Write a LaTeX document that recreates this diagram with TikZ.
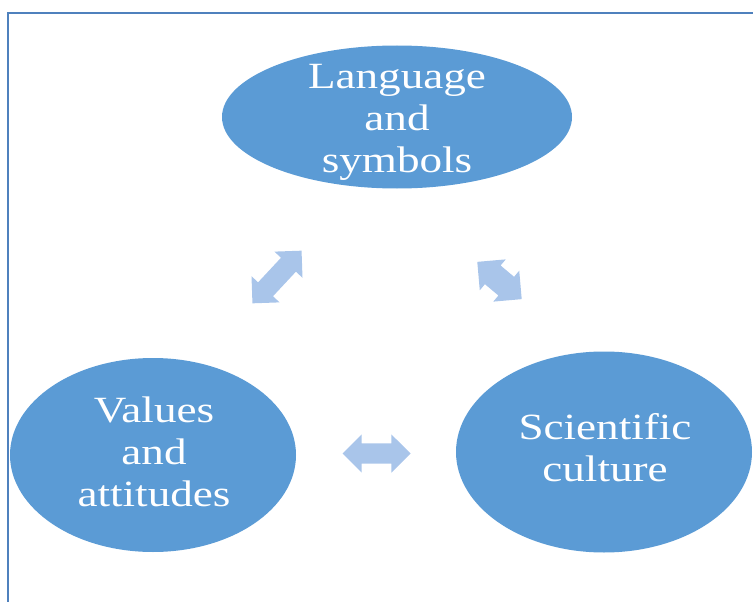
\documentclass[tikz,border=0pt]{standalone}
\usepackage{fontspec}
\setmainfont{Liberation Serif}[FakeStretch=1.22]
\usetikzlibrary{calc,shapes.geometric,shapes.arrows}
\definecolor{frame}{HTML}{4F81BD}
\definecolor{bubble}{HTML}{5B9BD5}
\definecolor{arrowfill}{HTML}{A9C5EA}

\tikzset{
  bubble/.style={ellipse, fill=bubble, inner sep=0pt},
  word/.style={text=white, align=center, inner sep=0pt,
    font=\fontsize{37}{42}\selectfont},
  link/.style={double arrow, fill=arrowfill, inner xsep=0pt, inner ysep=10pt,
    text height=0pt, text depth=0pt, double arrow head extend=9pt}
}

\begin{document}
\begin{tikzpicture}[x=1pt, y=-1pt]

  \useasboundingbox (0, 0) rectangle (753, 602);
  \draw[frame, line width=2.5pt] (8, 602) -- (8, 13) -- (753, 13);

  \node[bubble, minimum width=350pt, minimum height=143pt] (lang) at (397, 117) {};
  \node[bubble, minimum width=286pt, minimum height=194pt] (vals) at (153, 455) {};
  \node[bubble, minimum width=296pt, minimum height=201pt] (sci) at (604, 452) {};

  \node[word] (langtext) at (397, 122) {Language\\and\\symbols};
  \node[word] (valstext) at (154, 452) {Values\\and\\attitudes};
  \node[word] (scitext) at (605, 448) {Scientific\\culture};

  \node[link, minimum height=72pt, rotate=47] (l1) at ($(lang)!0.5!(vals)+(2,-9)$) {};
  \node[link, minimum height=58pt, rotate=-40, inner ysep=12pt, double arrow head extend=8pt] (l2) at ($(lang)!0.5!(sci)+(-1,-4)$) {};
  \node[link, minimum height=68pt] (l3) at ($(vals)!0.5!(sci)+(-2,0)$) {};

\end{tikzpicture}
\end{document}
